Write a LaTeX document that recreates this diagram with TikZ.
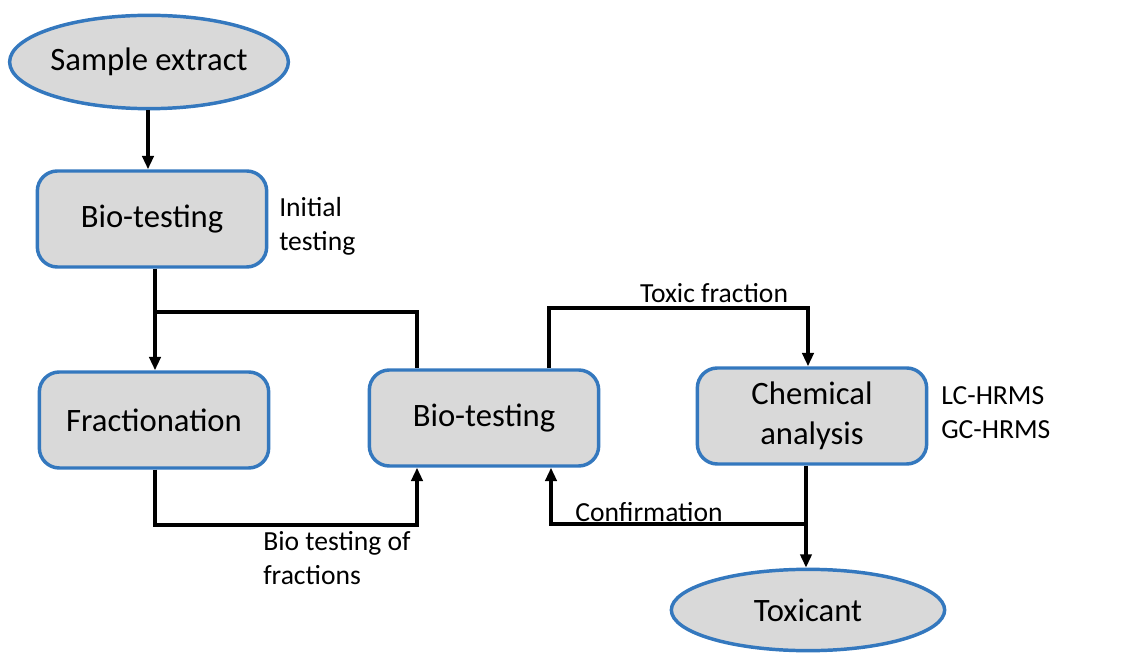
\documentclass[tikz,border=0pt]{standalone}
\usepackage{fontspec}
\setmainfont{Carlito}
\usetikzlibrary{shapes.geometric,arrows.meta}
\definecolor{boxblue}{RGB}{52,120,190}
\definecolor{boxfill}{RGB}{217,217,217}
\tikzset{
  procbox/.style={draw=boxblue, fill=boxfill, line width=2.6pt, rounded corners=15pt,
    minimum width=172pt, minimum height=72pt, inner sep=0pt, align=center,
    font=\fontsize{24.5}{30}\selectfont},
  termnode/.style={draw=boxblue, fill=boxfill, line width=2.6pt, ellipse,
    inner sep=0pt, font=\fontsize{24.5}{30}\selectfont},
  arr/.style={line width=2.4pt, -{Triangle[length=10pt,width=8.5pt]}},
  conn/.style={line width=2.4pt},
  lbl/.style={inner sep=0pt, align=left, font=\fontsize{20.7}{25.5}\selectfont}
}
\begin{document}
\begin{tikzpicture}[x=0.75pt,y=-0.75pt]
\useasboundingbox (0,0) rectangle (1135,655);
% nodes
\node[termnode, minimum width=205pt, minimum height=70pt] (se) at (149,62) {Sample extract};
\node[procbox] (bt1) at (152,219) {Bio-testing};
\node[procbox] (fr) at (154,420) {Fractionation};
\node[procbox] (bt2) at (484,418) {Bio-testing};
\node[procbox] (ca) at (812,416) {\rule{0pt}{6pt}Chemical\\analysis};
\node[termnode, minimum width=205pt, minimum height=61pt] (tox) at (808,610) {Toxicant};
% labels
\node[lbl, anchor=west] (init) at (279,226) {Initial\\testing};
\node[lbl, anchor=west] (hrms) at (941,413) {LC-HRMS\\GC-HRMS};
\node[lbl] (toxf) at (714,293) {Toxic fraction};
\node[lbl, anchor=west] (btf) at (263,558) {Bio testing of\\fractions};
\node[lbl] (conf) at (649,512) {Confirmation};
% coordinates
\coordinate (j1) at (155,312);
\coordinate (b2l) at (417,312);
\coordinate (fb) at (417,525);
\coordinate (tf) at (808,308);
\coordinate (b2r) at (549,308);
\coordinate (cj) at (806,524);
\coordinate (b2c) at (551,524);
% connectors
\draw[arr] (se.south -| 148,0) -- (bt1.north -| 148,0);
\draw[arr] (bt1.south -| j1) -- (fr.north -| j1);
\draw[conn] (j1) -- (b2l) -- (bt2.north -| b2l);
\draw[arr] (fr.south -| j1) |- (fb) -- (bt2.south -| fb);
\draw[arr] (bt2.north -| b2r) -- (b2r) -- (tf) -- (ca.north -| tf);
\draw[arr] (ca.south -| cj) -- (tox.north -| cj);
\draw[arr] (cj) -- (b2c) -- (bt2.south -| b2c);
\end{tikzpicture}
\end{document}
